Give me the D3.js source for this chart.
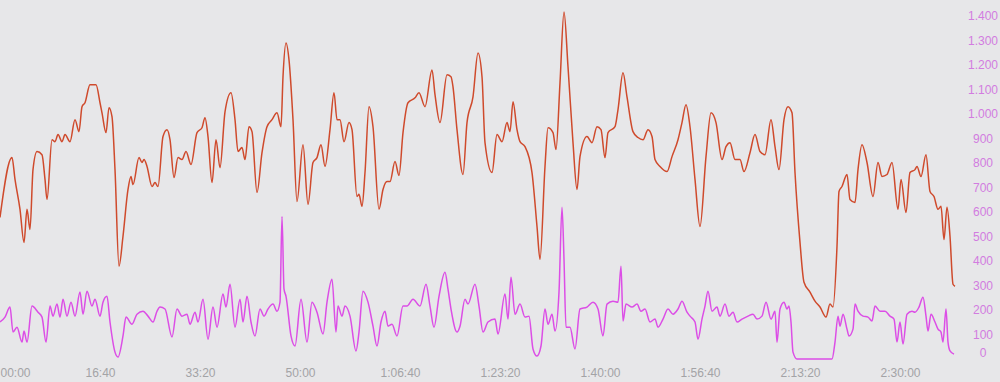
<!DOCTYPE html>
<html>
<head>
<meta charset="utf-8">
<script src="https://cdn.jsdelivr.net/npm/d3@7"></script>
<style>
  html, body { margin: 0; padding: 0; background: #e7e7e9; overflow: hidden; }
  svg text { font-family: "Liberation Sans", Arial, sans-serif; }
</style>
</head>
<body>
<script>
const width = 1000
const height = 382

// red series: time (s) / value
const redTime = [0,120,150,200,240,270,300,330,370,420,450,470,520,550,580,620,650,700,750,790,820,850,900,960,1000,1020,1060,1090,1120,1150,1190,1230,1280,1310,1330,1390,1420,1440,1470,1520,1550,1580,1630,1670,1700,1740,1780,1820,1860,1910,1970,2020,2050,2080,2120,2160,2200,2250,2310,2350,2380,2420,2450,2490,2520,2570,2620,2670,2720,2770,2810,2830,2860,2890,2930,2970,3030,3080,3130,3170,3210,3250,3300,3340,3370,3400,3440,3490,3520,3570,3590,3620,3650,3690,3730,3790,3830,3870,3900,3950,3990,4030,4080,4150,4190,4250,4320,4350,4400,4470,4510,4530,4570,4630,4670,4730,4780,4820,4850,4920,4970,5020,5070,5100,5130,5170,5200,5250,5320,5370,5400,5450,5480,5530,5560,5600,5640,5680,5730,5770,5800,5870,5920,5970,6010,6050,6080,6150,6180,6230,6270,6330,6380,6430,6480,6520,6550,6600,6670,6720,6780,6820,6860,6900,6950,7000,7060,7110,7160,7220,7260,7300,7350,7400,7440,7500,7550,7600,7650,7710,7750,7790,7840,7880,7920,7950,8000,8040,8100,8150,8200,8260,8300,8330,8370,8390,8420,8470,8500,8550,8580,8620,8670,8730,8780,8820,8870,8920,8980,9010,9060,9100,9150,9170,9210,9260,9300,9340,9380,9410,9440,9470,9500,9530,9550]
const redValue = [578,822,733,611,476,611,529,773,847,834,733,651,895,887,916,887,916,887,977,928,1030,1046,1119,1119,1046,1005,924,1026,989,773,379,501,692,745,712,822,802,814,786,704,720,704,908,936,895,741,822,814,847,794,924,944,985,908,720,895,781,1009,1087,977,847,863,814,948,928,680,842,948,977,1005,948,1152,1290,1221,977,643,875,631,802,822,875,786,936,1087,977,977,887,965,936,663,672,623,761,1030,948,611,692,724,724,806,749,924,1046,1066,1087,1030,1180,1079,965,1160,1152,1111,936,753,965,1070,1249,1152,883,761,916,887,965,928,1050,936,887,867,761,541,407,786,944,924,855,1127,1416,1193,883,692,826,908,883,948,936,822,924,948,1018,1168,1070,928,904,895,936,908,814,786,765,826,895,965,1038,948,733,541,826,1005,965,814,867,883,814,814,765,842,916,847,834,977,867,773,977,1030,1005,761,476,313,273,236,212,171,224,212,460,684,704,753,651,639,773,875,802,663,802,745,753,802,611,733,598,761,773,786,745,834,684,663,611,623,488,619,501,305,297]

// magenta series: time (s) / value
const pinkTime = [0,50,100,130,170,220,240,270,320,380,420,460,500,530,570,600,630,670,710,750,800,830,870,920,950,1000,1030,1070,1100,1150,1180,1230,1260,1320,1370,1430,1480,1530,1570,1600,1650,1720,1770,1820,1870,1900,1950,1980,2030,2080,2130,2170,2230,2260,2300,2350,2400,2430,2470,2510,2550,2600,2640,2680,2730,2770,2800,2820,2840,2860,2910,2950,3010,3070,3120,3170,3230,3270,3320,3360,3380,3420,3450,3500,3560,3590,3630,3680,3730,3770,3810,3850,3880,3920,3970,4030,4070,4130,4200,4260,4300,4340,4390,4450,4480,4510,4570,4600,4650,4680,4750,4790,4830,4880,4950,4980,5050,5080,5110,5150,5200,5250,5290,5330,5370,5410,5450,5480,5520,5550,5590,5620,5640,5660,5700,5750,5800,5870,5930,5980,6030,6070,6130,6180,6210,6230,6260,6320,6370,6410,6450,6500,6550,6580,6630,6680,6730,6780,6820,6870,6900,6950,6980,7020,7050,7080,7120,7170,7200,7250,7290,7330,7370,7420,7480,7530,7570,7620,7660,7710,7750,7770,7800,7840,7870,7890,7910,7930,7970,8320,8350,8380,8400,8430,8470,8490,8530,8550,8580,8630,8680,8720,8750,8800,8850,8900,8940,8970,9000,9030,9070,9120,9150,9190,9230,9260,9280,9310,9350,9380,9410,9430,9460,9480,9500,9540]
const pinkValue = [151,171,212,110,130,69,114,69,216,191,171,69,216,175,224,171,244,175,232,175,273,183,277,216,244,175,232,256,151,28,8,94,171,142,183,195,175,151,195,212,204,90,204,175,183,142,191,151,244,81,212,130,265,212,305,130,244,151,256,151,94,204,175,204,224,195,232,582,285,256,94,53,244,69,232,191,102,232,326,110,216,175,216,175,33,110,277,232,134,53,151,195,134,142,94,216,216,244,216,305,216,130,256,354,285,204,110,134,244,224,305,216,110,151,163,102,265,163,334,183,224,171,175,41,12,53,204,142,183,114,273,619,407,130,130,41,204,212,232,204,94,224,236,232,379,155,224,212,224,195,204,151,163,130,163,204,183,204,236,191,175,151,81,163,216,277,195,212,175,224,175,191,151,163,175,183,163,175,232,163,195,69,204,232,204,216,151,28,0,0,69,175,134,183,122,94,122,224,195,175,171,155,216,195,195,175,163,69,151,61,183,195,191,212,252,175,114,183,151,122,110,69,204,69,33,20]

const yTicks = [0,100,200,300,400,500,600,700,800,900,1000,1100,1200,1300,1400]
const xTicks = [0,1000,2000,3000,4000,5000,6000,7000,8000,9000]

const svg = d3.select("body").append("svg")
    .attr("width", width)
    .attr("height", height);

const x = d3.scaleLinear()
    .domain([0, 9560])
    .range([0, 956]);

const y = d3.scaleLinear()
    .domain([0, 1400])
    .range([359, 16]);

const locale = d3.formatLocale({decimal: ",", thousands: ".", grouping: [3], currency: ["", ""]});
const fmtY = locale.format(",d");

function fmtTime(s) {
    const h = Math.floor(s / 3600);
    const m = Math.floor((s % 3600) / 60);
    const sec = s % 60;
    const pad = n => String(n).padStart(2, "0");
    return h > 0 ? `${h}:${pad(m)}:${pad(sec)}` : `${pad(m)}:${pad(sec)}`;
}

const line = d3.line()
    .x(d => x(d[0]))
    .y(d => y(d[1]))
    .curve(d3.curveMonotoneX);

svg.append("path")
    .datum(d3.zip(redTime, redValue))
    .attr("d", line)
    .attr("fill", "none")
    .attr("stroke", "#cf4a2c")
    .attr("stroke-width", 1.5)
    .attr("stroke-linejoin", "round");

svg.append("path")
    .datum(d3.zip(pinkTime, pinkValue))
    .attr("d", line)
    .attr("fill", "none")
    .attr("stroke", "#dc4ee6")
    .attr("stroke-width", 1.5)
    .attr("stroke-linejoin", "round");

// x axis labels
const xAxis = svg.append("g")
    .attr("transform", "translate(0,368)")
    .call(d3.axisBottom(x).tickValues(xTicks).tickFormat(fmtTime).tickSize(0).tickPadding(0));
xAxis.select(".domain").remove();
xAxis.selectAll("text")
    .attr("dy", "0.71em")
    .attr("fill", "#a3a3a6")
    .style("font-size", "12px");
xAxis.selectAll(".tick").filter(d => d === 0).select("text").attr("text-anchor", "start");

// y axis labels (right side)
const yAxis = svg.append("g")
    .attr("transform", "translate(983,0)")
    .call(d3.axisRight(y).tickValues(yTicks).tickFormat(fmtY).tickSize(0).tickPadding(0));
yAxis.select(".domain").remove();
yAxis.selectAll("text")
    .attr("text-anchor", "middle")
    .attr("fill", "#d27ce0")
    .style("font-size", "12px");
yAxis.selectAll(".tick").filter(d => d === 0).select("text").attr("dy", "-0.2em");
</script>
</body>
</html>
